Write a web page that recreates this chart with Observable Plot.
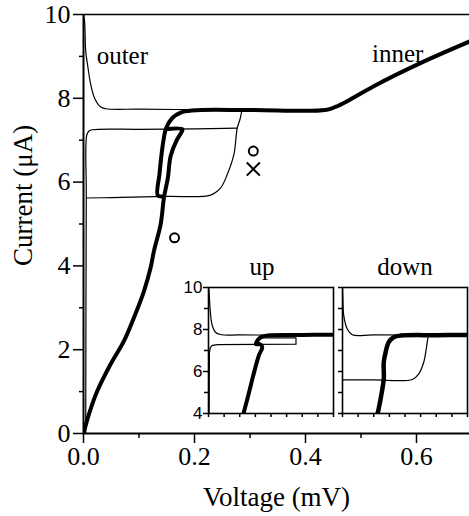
<!DOCTYPE html>
<html>
<head>
<meta charset="utf-8">
<script src="https://cdn.jsdelivr.net/npm/d3@7"></script>
<script src="https://cdn.jsdelivr.net/npm/@observablehq/plot@0.6"></script>
<style>
  html, body { margin: 0; padding: 0; background: white; }
  #chart { position: relative; width: 469px; height: 516px; overflow: hidden; }
  #chart svg { position: absolute; }
</style>
</head>
<body>
<div id="chart"></div>
<script>
// ---------- Main panel data (Voltage in mV, Current in µA) ----------
const outerV = [0.0, 0.002, 0.004, 0.008, 0.013, 0.02, 0.031, 0.04, 0.1, 0.2, 0.3, 0.44];
const outerI = [10.0, 9.83, 9.12, 8.74, 8.33, 8.0, 7.79, 7.75, 7.74, 7.73, 7.73, 7.72];

const loopTopV = [0.004, 0.005, 0.006, 0.01, 0.016, 0.1, 0.2, 0.277];
const loopTopI = [0.0, 5.62, 7.13, 7.22, 7.25, 7.26, 7.27, 7.29];
const loopRightV = [0.285, 0.282, 0.277, 0.271, 0.259, 0.247, 0.229, 0.15, 0.05, 0.005];
const loopRightI = [7.69, 7.5, 7.29, 6.66, 6.18, 5.86, 5.69, 5.66, 5.63, 5.62];

const innerUpV = [0.0, 0.01, 0.025, 0.049, 0.073, 0.091, 0.109, 0.121, 0.127, 0.139, 0.145, 0.152, 0.157, 0.168, 0.177, 0.178, 0.152];
const innerUpI = [0.0, 0.47, 1.02, 1.66, 2.21, 2.77, 3.40, 3.96, 4.36, 4.99, 5.63, 6.10, 6.62, 7.0, 7.2, 7.26, 7.27];
const innerDownV = [0.145, 0.134, 0.137, 0.143, 0.149, 0.16, 0.175, 0.195, 0.3, 0.436, 0.455, 0.475, 0.523, 0.607, 0.70];
const innerDownI = [5.66, 5.68, 6.2, 6.9, 7.29, 7.53, 7.66, 7.71, 7.72, 7.72, 7.8, 7.93, 8.29, 8.84, 9.38];

const circleV = [0.164, 0.306];
const circleI = [4.67, 6.74];
const crossV = [0.306];
const crossI = [6.31];

const labelText = ["outer", "inner"];
const labelV = [0.07, 0.566];
const labelI = [9.0, 9.05];

const xMajorTicks = [0, 0.2, 0.4, 0.6];
const xMinorTicks = [0.1, 0.3, 0.5];
const yMajorTicks = [0, 2, 4, 6, 8, 10];
const yMinorTicks = [1, 3, 5, 7, 9];

// ---------- Inset "up" ----------
const upOuterV = [0.0, 0.001, 0.006, 0.012, 0.022, 0.038, 0.1, 0.4];
const upOuterI = [10.0, 9.94, 8.82, 8.19, 7.87, 7.76, 7.74, 7.74];
const upLoopV = [0.002, 0.003, 0.006, 0.012, 0.03, 0.28, 0.28, 0.17];
const upLoopI = [4.0, 6.9, 7.15, 7.24, 7.28, 7.3, 7.6, 7.6];
const upInnerV = [0.112, 0.13, 0.146, 0.161, 0.172, 0.165, 0.152, 0.158, 0.17, 0.19, 0.3, 0.4];
const upInnerI = [4.0, 5.02, 5.97, 6.76, 7.16, 7.3, 7.3, 7.5, 7.65, 7.72, 7.74, 7.75];

// ---------- Inset "down" ----------
const downOuterV = [0.0, 0.001, 0.004, 0.015, 0.031, 0.1, 0.4];
const downOuterI = [10.0, 9.54, 8.67, 8.03, 7.75, 7.74, 7.74];
const downLoopV = [0.0, 0.1, 0.224, 0.244, 0.26, 0.268, 0.273, 0.276, 0.3];
const downLoopI = [5.6, 5.6, 5.62, 5.89, 6.44, 7.08, 7.56, 7.72, 7.74];
const downInnerV = [0.111, 0.122, 0.132, 0.132, 0.138, 0.148, 0.164, 0.186, 0.3, 0.4];
const downInnerI = [3.9, 4.7, 5.65, 6.44, 6.92, 7.4, 7.63, 7.71, 7.73, 7.74];

const insetXTicks = [0, 0.05, 0.1, 0.15, 0.2, 0.25, 0.3, 0.35, 0.4];
const insetYMajor = [4, 6, 8, 10];
const insetYMinor = [5, 7, 9];
const insetYAll = [4, 5, 6, 7, 8, 9, 10];

// ---------- helpers ----------
const pts = (V, I) => V.map((v, k) => ({v, i: I[k]}));
const serif = "Liberation Serif, Times New Roman, serif";
const sans = "Liberation Sans, Arial, sans-serif";
const blank = () => "";

const chart = document.getElementById("chart");

const main = Plot.plot({
  width: 469, height: 516,
  marginLeft: 83, marginRight: 0, marginTop: 14, marginBottom: 83,
  x: {domain: [0, 0.6955]},
  y: {domain: [0, 10]},
  style: {"font-family": serif, "background": "white", "color": "black"},
  marks: [
    Plot.axisY({ticks: yMajorTicks, tickSize: 10, strokeWidth: 1.5, tickFormat: blank, label: null}),
    Plot.axisY({ticks: yMinorTicks, tickSize: 4, strokeWidth: 1.5, tickFormat: blank, label: null}),
    Plot.axisX({ticks: xMajorTicks, tickSize: 10, strokeWidth: 1.5, tickFormat: blank, label: null}),
    Plot.axisX({ticks: xMinorTicks, tickSize: 5, strokeWidth: 1.5, tickFormat: blank, label: null}),
    Plot.text(yMajorTicks, {y: (d) => d, text: d3.format("d"), frameAnchor: "left", dx: -13, textAnchor: "end", fontSize: 26, fontFamily: serif}),
    Plot.text(xMajorTicks, {x: (d) => d, text: d3.format(".1f"), frameAnchor: "bottom", dy: 13, lineAnchor: "top", fontSize: 26, fontFamily: serif}),
    Plot.ruleX([0], {strokeWidth: 2}),
    Plot.ruleY([0], {strokeWidth: 2}),
    Plot.ruleY([10], {strokeWidth: 1.5}),
    Plot.line(pts(outerV, outerI), {x: "v", y: "i", strokeWidth: 1.2, curve: "catmull-rom", clip: true}),
    Plot.line(pts(loopTopV, loopTopI), {x: "v", y: "i", strokeWidth: 1.2, curve: "catmull-rom", clip: true}),
    Plot.line(pts(loopRightV, loopRightI), {x: "v", y: "i", strokeWidth: 1.2, curve: "catmull-rom", clip: true}),
    Plot.line(pts(innerUpV, innerUpI), {x: "v", y: "i", strokeWidth: 4, curve: "catmull-rom", strokeLinejoin: "round", strokeLinecap: "round", clip: true}),
    Plot.line(pts(innerDownV, innerDownI), {x: "v", y: "i", strokeWidth: 4, curve: "catmull-rom", strokeLinejoin: "round", strokeLinecap: "round", clip: true}),
    Plot.dot(pts(circleV, circleI), {x: "v", y: "i", r: 4.5, stroke: "black", strokeWidth: 2, fill: "none"}),
    Plot.dot(pts(crossV, crossI), {x: "v", y: "i", r: 6, symbol: "times", stroke: "black", strokeWidth: 2}),
    Plot.text(labelText.map((t, k) => ({t, v: labelV[k], i: labelI[k]})), {x: "v", y: "i", text: "t", fontSize: 25, fontFamily: serif}),
    Plot.text(["Current (μA)"], {frameAnchor: "left", dx: -60, dy: 42, rotate: -90, fontSize: 27, fontFamily: serif}),
    Plot.text(["Voltage (mV)"], {frameAnchor: "bottom", dy: 72, lineAnchor: "bottom", fontSize: 27, fontFamily: serif})
  ]
});
main.style.left = "0px";
main.style.top = "0px";
chart.appendChild(main);

function inset({outerV, outerI, loopV, loopI, loopCurve, innerV, innerI, title, titleDx, labels, thick}) {
  const yAxes = labels
    ? [
        Plot.axisY({ticks: insetYMajor, tickSize: 5, strokeWidth: 1.5, tickFormat: blank, label: null}),
        Plot.axisY({ticks: insetYMinor, tickSize: 4, strokeWidth: 1.5, tickFormat: blank, label: null}),
        Plot.text(insetYMajor, {y: (d) => d, text: d3.format("d"), frameAnchor: "left", dx: -6, textAnchor: "end", fontSize: 17, fontFamily: sans})
      ]
    : [Plot.axisY({ticks: insetYAll, tickSize: 4, strokeWidth: 1.5, tickFormat: blank, label: null})];
  return Plot.plot({
    width: 157, height: 168,
    marginLeft: 30, marginRight: 2, marginTop: 30, marginBottom: 12,
    x: {domain: [0, 0.4]},
    y: {domain: [4, 10]},
    style: {"font-family": sans, "background": "none", "overflow": "visible", "color": "black"},
    marks: [
      Plot.axisX({ticks: insetXTicks, tickSize: 4, strokeWidth: 1.5, tickFormat: blank, label: null}),
      ...yAxes,
      Plot.line(pts(outerV, outerI), {x: "v", y: "i", strokeWidth: 1.2, curve: "catmull-rom", clip: true}),
      Plot.line(pts(loopV, loopI), {x: "v", y: "i", strokeWidth: 1.2, curve: loopCurve, clip: true}),
      Plot.line(pts(innerV, innerI), {x: "v", y: "i", strokeWidth: thick, curve: "catmull-rom", strokeLinejoin: "round", clip: true}),
      Plot.frame({strokeWidth: 1.6}),
      Plot.text([title], {frameAnchor: "top", dy: -13, dx: titleDx, lineAnchor: "bottom", fontSize: 25, fontFamily: serif})
    ]
  });
}

const up = inset({outerV: upOuterV, outerI: upOuterI, loopV: upLoopV, loopI: upLoopI, loopCurve: "linear",
  innerV: upInnerV, innerI: upInnerI, title: "up", titleDx: -9, labels: true, thick: 4});
up.style.left = "178px";
up.style.top = "257px";
chart.appendChild(up);

const down = inset({outerV: downOuterV, outerI: downOuterI, loopV: downLoopV, loopI: downLoopI, loopCurve: "catmull-rom",
  innerV: downInnerV, innerI: downInnerI, title: "down", titleDx: 0, labels: false, thick: 4.5});
down.style.left = "312px";
down.style.top = "257px";
chart.appendChild(down);
</script>
</body>
</html>
